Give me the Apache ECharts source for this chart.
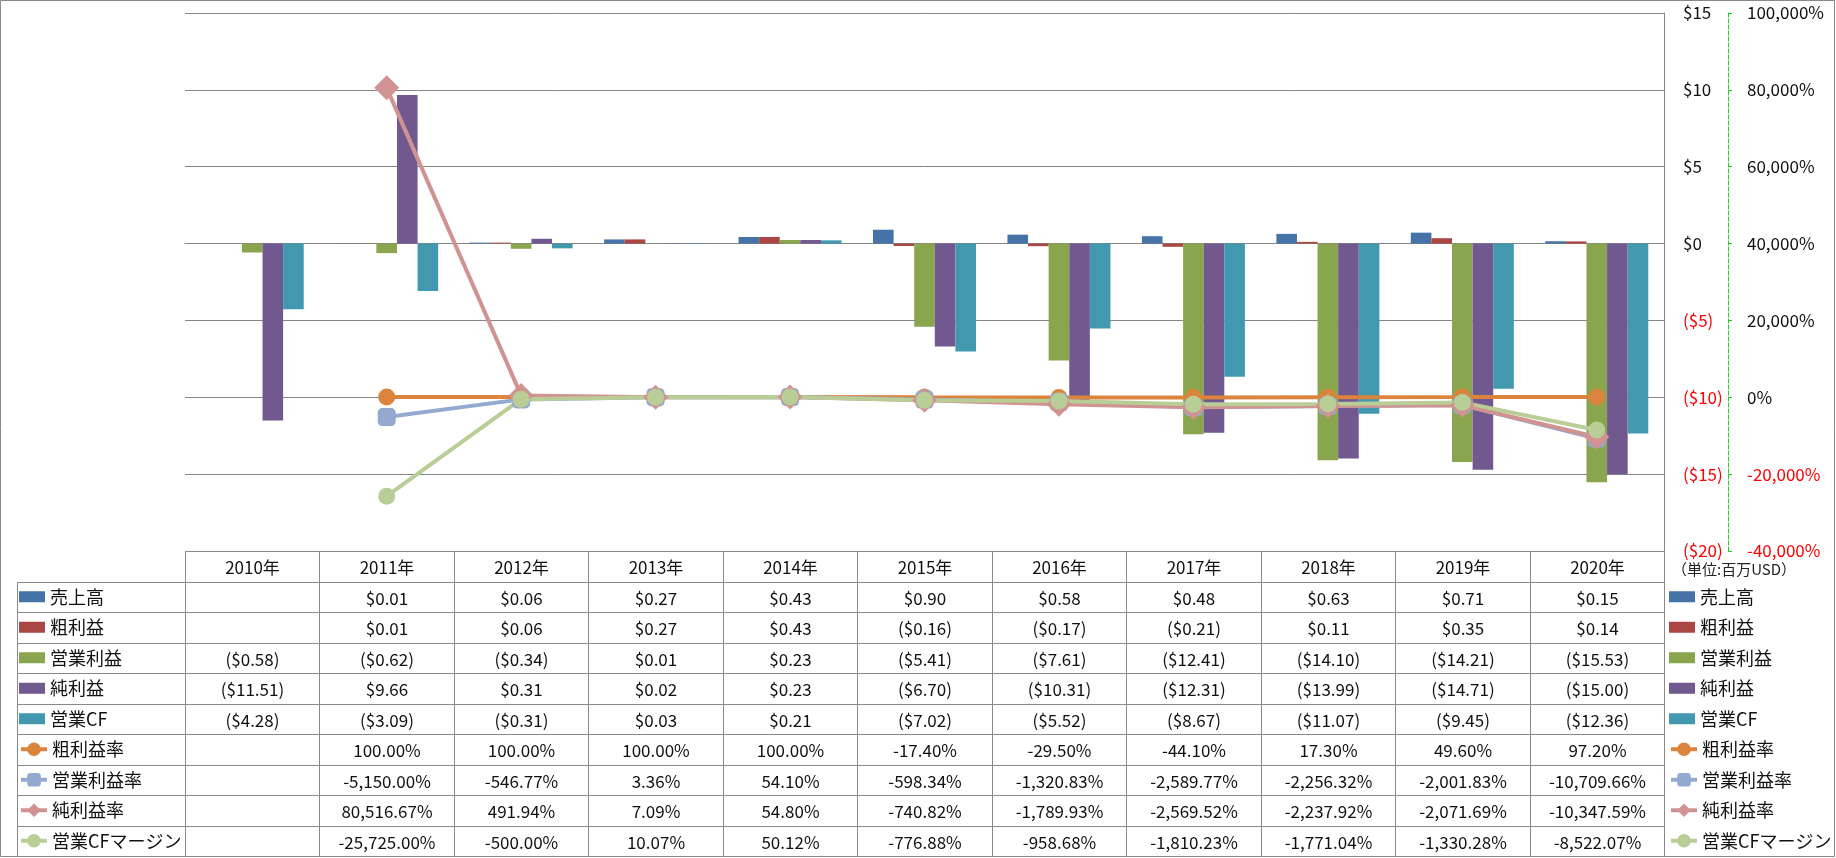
<!DOCTYPE html>
<html><head><meta charset="utf-8">
<script src="https://cdn.jsdelivr.net/npm/echarts@6/dist/echarts.min.js"></script>
<style>html,body{margin:0;padding:0;background:#fff}#c{width:1836px;height:858px}</style>
</head><body><div id="c"></div>
<script>
// ---------- data ----------
const years = ['2010年','2011年','2012年','2013年','2014年','2015年','2016年','2017年','2018年','2019年','2020年'];
const sales       = [null, 0.01, 0.06, 0.27, 0.43, 0.90, 0.58, 0.48, 0.63, 0.71, 0.15];
const grossProfit = [null, 0.01, 0.06, 0.27, 0.43, -0.16, -0.17, -0.21, 0.11, 0.35, 0.14];
const opProfit    = [-0.58, -0.62, -0.34, 0.01, 0.23, -5.41, -7.61, -12.41, -14.10, -14.21, -15.53];
const netProfit   = [-11.51, 9.66, 0.31, 0.02, 0.23, -6.70, -10.31, -12.31, -13.99, -14.71, -15.00];
const opCF        = [-4.28, -3.09, -0.31, 0.03, 0.21, -7.02, -5.52, -8.67, -11.07, -9.45, -12.36];
const grossMargin = [null, 100, 100, 100, 100, -17.40, -29.50, -44.10, 17.30, 49.60, 97.20];
const opMargin    = [null, -5150.00, -546.77, 3.36, 54.10, -598.34, -1320.83, -2589.77, -2256.32, -2001.83, -10709.66];
const netMargin   = [null, 80516.67, 491.94, 7.09, 54.80, -740.82, -1789.93, -2569.52, -2237.92, -2071.69, -10347.59];
const cfMargin    = [null, -25725.00, -500.00, 10.07, 50.12, -776.88, -958.68, -1810.23, -1771.04, -1330.28, -8522.07];
const barNames  = ['売上高','粗利益','営業利益','純利益','営業CF'];
const lineNames = ['粗利益率','営業利益率','純利益率','営業CFマージン'];
const unitLabel = '（単位:百万USD）';
// axis ticks
const usdAxis = {min: -20, max: 15, interval: 5};
const pctAxis = {min: -40000, max: 100000, interval: 20000};

// ---------- style ----------
const FONT = '"Noto Sans CJK JP", "Noto Sans", sans-serif';
const barColors  = ['#4572A7','#AA4643','#89A54E','#71588F','#4198AF'];
const lineColors = ['#DB843D','#93A9CF','#D19392','#B9CD96'];
const lineSymbols = [['circle',17],['roundRect',18],['diamond',25],['circle',17]];
const GRID_LINE = '#868686';
const TABLE_LINE = '#898989';
const TABLE_LEFT = 17;
const PLOT_LEFT = 185, PLOT_RIGHT = 172, PLOT_TOP = 13, PLOT_BOTTOM_Y = 551, TABLE_BOTTOM_Y = 856;
const ROW_H = (TABLE_BOTTOM_Y - PLOT_BOTTOM_Y) / 10;

const barData = [sales, grossProfit, opProfit, netProfit, opCF];
const lineData = [grossMargin, opMargin, netMargin, cfMargin];

function fmtUsd(v) {
  if (v === null || v === undefined) return '';
  const s = '$' + Math.abs(v).toFixed(2);
  return v < 0 ? '(' + s + ')' : s;
}
function fmtPct(v) {
  if (v === null || v === undefined) return '';
  return v.toLocaleString('en-US', {minimumFractionDigits: 2, maximumFractionDigits: 2}) + '%';
}

// table cells
const cells = [];
years.forEach((y, c) => cells.push({col: c, row: 0, text: y}));
barData.forEach((arr, i) => arr.forEach((v, c) => cells.push({col: c, row: i + 1, text: fmtUsd(v)})));
lineData.forEach((arr, i) => arr.forEach((v, c) => cells.push({col: c, row: i + 6, text: fmtPct(v)})));

function renderCell(params, api) {
  const cell = cells[params.dataIndex];
  const p = api.coord([api.value(0), api.value(1)]);
  const sz = api.size([1, 1]);
  const L = Math.round(p[0] - sz[0] / 2) + 0.5, R = Math.round(p[0] + sz[0] / 2) + 0.5;
  const T = Math.round(p[1] - sz[1] / 2) + 0.5, B = Math.round(p[1] + sz[1] / 2) + 0.5;
  const children = [
    {type: 'rect', shape: {x: L, y: T, width: R - L, height: B - T}, style: {fill: 'none', stroke: TABLE_LINE, lineWidth: 1}},
    {type: 'text', style: {text: cell.text, x: (L + R) / 2, y: (T + B) / 2 + 1, align: 'center', verticalAlign: 'middle', font: '17px ' + FONT, fill: '#111'}}
  ];
  if (cell.col === 0 && cell.row > 0) {
    children.push({type: 'rect', shape: {x: TABLE_LEFT + 0.5, y: T, width: L - TABLE_LEFT - 0.5, height: B - T}, style: {fill: 'none', stroke: TABLE_LINE, lineWidth: 1}});
  }
  return {type: 'group', children};
}

const series = [];
barNames.forEach((n, i) => series.push({
  name: n, type: 'bar', xAxisIndex: 0, yAxisIndex: 0, data: barData[i],
  itemStyle: {color: barColors[i]}, barGap: '0%', barCategoryGap: '23.4%'
}));
lineNames.forEach((n, i) => series.push({
  name: n, type: 'line', xAxisIndex: 0, yAxisIndex: 1, data: lineData[i],
  symbol: lineSymbols[i][0], symbolSize: lineSymbols[i][1], showSymbol: true, showAllSymbol: true,
  itemStyle: {color: lineColors[i]}, lineStyle: {color: lineColors[i], width: 4}
}));
series.push({
  type: 'custom', xAxisIndex: 1, yAxisIndex: 2, silent: true, renderItem: renderCell,
  data: cells.map(c => [c.col, c.row]), encode: {x: 0, y: 1}, clip: false
});

function legendOpt(names, left, top, itemHeight) {
  return {
    data: names.map(n => ({name: n, icon: barNames.includes(n) ? 'rect' : undefined})),
    orient: 'vertical', left: left, top: top, itemWidth: 26, itemHeight: itemHeight,
    itemGap: ROW_H - 20, selectedMode: false, padding: 0,
    lineStyle: {width: 4},
    textStyle: {fontSize: 18, lineHeight: 20, color: '#111', fontFamily: FONT}
  };
}
const legTop1 = PLOT_BOTTOM_Y + ROW_H + (ROW_H - 20) / 2;
const legTop2 = legTop1 + 5 * ROW_H;

const option = {
  animation: false,
  backgroundColor: '#fff',
  textStyle: {fontFamily: FONT},
  grid: [
    {left: PLOT_LEFT, right: PLOT_RIGHT, top: PLOT_TOP, bottom: 858 - PLOT_BOTTOM_Y},
    {left: PLOT_LEFT, right: PLOT_RIGHT, top: PLOT_BOTTOM_Y, bottom: 858 - TABLE_BOTTOM_Y}
  ],
  xAxis: [
    {type: 'category', gridIndex: 0, data: years, axisLine: {show: true, lineStyle: {color: GRID_LINE}},
     axisTick: {show: false}, axisLabel: {show: false}},
    {type: 'category', gridIndex: 1, data: years, show: false}
  ],
  yAxis: [
    {type: 'value', gridIndex: 0, position: 'right', min: usdAxis.min, max: usdAxis.max, interval: usdAxis.interval,
     axisLine: {show: true, lineStyle: {color: GRID_LINE}}, axisTick: {show: false},
     splitLine: {show: true, lineStyle: {color: GRID_LINE, width: 1}},
     axisLabel: {margin: 19, fontSize: 17, fontFamily: FONT,
       formatter: v => v < 0 ? '($' + (-v) + ')' : '$' + v,
       color: v => (Number(v) < 0 ? '#FF0000' : '#111')}},
    {type: 'value', gridIndex: 0, position: 'right', offset: 64, min: pctAxis.min, max: pctAxis.max, interval: pctAxis.interval,
     axisLine: {show: true, lineStyle: {color: '#22CC22', type: [4, 2], width: 1}},
     axisTick: {show: true, length: 4, lineStyle: {color: '#22CC22'}},
     splitLine: {show: false},
     axisLabel: {margin: 19, fontSize: 17, fontFamily: FONT,
       formatter: v => v.toLocaleString('en-US') + '%',
       color: v => (Number(v) < 0 ? '#FF0000' : '#111')}},
    {type: 'category', gridIndex: 1, data: [''].concat(barNames, lineNames), inverse: true, show: false}
  ],
  legend: [
    legendOpt(barNames, TABLE_LEFT + 2, legTop1, 11),
    legendOpt(lineNames, TABLE_LEFT + 2, legTop2, 17),
    legendOpt(barNames, 1669, legTop1, 11),
    legendOpt(lineNames, 1669, legTop2, 17)
  ],
  graphic: [
    {type: 'rect', silent: true, z: -1, shape: {x: 0.5, y: 0.5, width: 1834, height: TABLE_BOTTOM_Y}, style: {fill: 'none', stroke: TABLE_LINE, lineWidth: 1}},
    {type: 'text', silent: true, left: 1672, top: 562, style: {text: unitLabel, font: '15px ' + FONT, fill: '#222'}}
  ],
  series: series
};
const chart = echarts.init(document.getElementById('c'), null, {renderer: 'canvas'});
chart.setOption(option);
</script>
</body></html>
